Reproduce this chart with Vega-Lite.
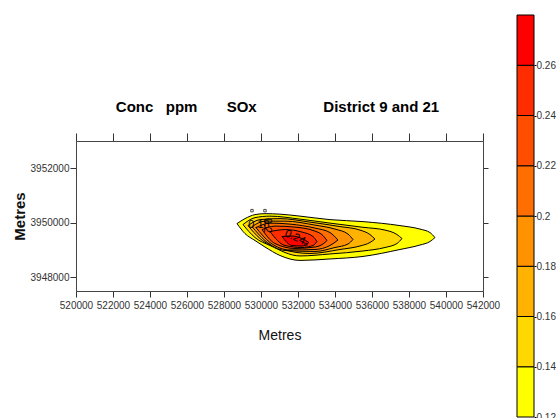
{
  "$schema": "https://vega.github.io/schema/vega-lite/v6.json",
  "padding": {"left": 12, "top": 14, "right": 0, "bottom": 0},
  "background": "white",
  "config": {"view": {"stroke": null}, "concat": {"spacing": 34}},
  "center": true,
  "bounds": "flush",
  "resolve": {"scale": {"color": "independent"}},
  "datasets": {
    "contours": [
      {"level":0.12,"x":528702,"ylo":3949971,"yhi":3949971},
      {"level":0.12,"x":529134,"ylo":3949606,"yhi":3950154},
      {"level":0.12,"x":529675,"ylo":3949351,"yhi":3950300},
      {"level":0.12,"x":530215,"ylo":3949113,"yhi":3950336},
      {"level":0.12,"x":531026,"ylo":3948803,"yhi":3950318},
      {"level":0.12,"x":532107,"ylo":3948621,"yhi":3950245},
      {"level":0.12,"x":533729,"ylo":3948675,"yhi":3950117},
      {"level":0.12,"x":535512,"ylo":3948767,"yhi":3950044},
      {"level":0.12,"x":537512,"ylo":3949022,"yhi":3949898},
      {"level":0.12,"x":538593,"ylo":3949186,"yhi":3949770},
      {"level":0.12,"x":539134,"ylo":3949314,"yhi":3949643},
      {"level":0.12,"x":539404,"ylo":3949460,"yhi":3949460},
      {"level":0.14,"x":529026,"ylo":3949935,"yhi":3949935},
      {"level":0.14,"x":529675,"ylo":3949460,"yhi":3950190},
      {"level":0.14,"x":530486,"ylo":3949168,"yhi":3950245},
      {"level":0.14,"x":532107,"ylo":3948785,"yhi":3950135},
      {"level":0.14,"x":533729,"ylo":3948858,"yhi":3949989},
      {"level":0.14,"x":535512,"ylo":3948967,"yhi":3949836},
      {"level":0.14,"x":536701,"ylo":3949095,"yhi":3949734},
      {"level":0.14,"x":537350,"ylo":3949241,"yhi":3949570},
      {"level":0.14,"x":537620,"ylo":3949424,"yhi":3949424},
      {"level":0.16,"x":529297,"ylo":3949898,"yhi":3949898},
      {"level":0.16,"x":529945,"ylo":3949424,"yhi":3950117},
      {"level":0.16,"x":531026,"ylo":3949059,"yhi":3950154},
      {"level":0.16,"x":532648,"ylo":3948876,"yhi":3950026},
      {"level":0.16,"x":534269,"ylo":3949022,"yhi":3949862},
      {"level":0.16,"x":535350,"ylo":3949150,"yhi":3949734},
      {"level":0.16,"x":535891,"ylo":3949278,"yhi":3949570},
      {"level":0.16,"x":536161,"ylo":3949405,"yhi":3949405},
      {"level":0.18,"x":529513,"ylo":3949862,"yhi":3949862},
      {"level":0.18,"x":530215,"ylo":3949351,"yhi":3950062},
      {"level":0.18,"x":531296,"ylo":3948986,"yhi":3950062},
      {"level":0.18,"x":532918,"ylo":3948949,"yhi":3949916},
      {"level":0.18,"x":533999,"ylo":3949095,"yhi":3949770},
      {"level":0.18,"x":534702,"ylo":3949223,"yhi":3949588},
      {"level":0.18,"x":534972,"ylo":3949387,"yhi":3949387},
      {"level":0.2,"x":529729,"ylo":3949825,"yhi":3949825},
      {"level":0.2,"x":530486,"ylo":3949278,"yhi":3949989},
      {"level":0.2,"x":531567,"ylo":3949004,"yhi":3949953},
      {"level":0.2,"x":532918,"ylo":3949022,"yhi":3949807},
      {"level":0.2,"x":533729,"ylo":3949168,"yhi":3949643},
      {"level":0.2,"x":534161,"ylo":3949369,"yhi":3949369},
      {"level":0.22,"x":530053,"ylo":3949752,"yhi":3949752},
      {"level":0.22,"x":530756,"ylo":3949241,"yhi":3949880},
      {"level":0.22,"x":531837,"ylo":3949059,"yhi":3949843},
      {"level":0.22,"x":532918,"ylo":3949113,"yhi":3949697},
      {"level":0.22,"x":533350,"ylo":3949223,"yhi":3949533},
      {"level":0.22,"x":533567,"ylo":3949351,"yhi":3949351},
      {"level":0.24,"x":530486,"ylo":3949679,"yhi":3949679},
      {"level":0.24,"x":531296,"ylo":3949168,"yhi":3949752},
      {"level":0.24,"x":532215,"ylo":3949095,"yhi":3949661},
      {"level":0.24,"x":532810,"ylo":3949168,"yhi":3949497},
      {"level":0.24,"x":533026,"ylo":3949314,"yhi":3949314},
      {"level":0.26,"x":531134,"ylo":3949497,"yhi":3949497},
      {"level":0.26,"x":531675,"ylo":3949168,"yhi":3949515},
      {"level":0.26,"x":532215,"ylo":3949150,"yhi":3949424},
      {"level":0.26,"x":532594,"ylo":3949278,"yhi":3949278}
    ],
    "labels": [
      {"x": 529891, "y": 3949935, "label": "0.18", "angle": 0},
      {"x": 530324, "y": 3949900, "label": "0.2", "angle": 90},
      {"x": 531837, "y": 3949460, "label": "0.24", "angle": 25}
    ],
    "dots": [
      {"x": 529513, "y": 3950446},
      {"x": 530215, "y": 3950446},
      {"x": 532432, "y": 3949205}
    ],
    "bar": [
      {"lo": 0.12, "hi": 0.14},
      {"lo": 0.14, "hi": 0.16},
      {"lo": 0.16, "hi": 0.18},
      {"lo": 0.18, "hi": 0.2},
      {"lo": 0.2, "hi": 0.22},
      {"lo": 0.22, "hi": 0.24},
      {"lo": 0.24, "hi": 0.26},
      {"lo": 0.26, "hi": 0.28}
    ]
  },
  "hconcat": [
    {
      "width": 407,
      "height": 150,
      "title": {
        "text": "Conc\u00a0\u00a0\u00a0ppm\u00a0\u00a0\u00a0\u00a0\u00a0\u00a0\u00a0SOx\u00a0\u00a0\u00a0\u00a0\u00a0\u00a0\u00a0\u00a0\u00a0\u00a0\u00a0\u00a0\u00a0\u00a0\u00a0\u00a0District 9 and 21",
        "font": "Liberation Sans",
        "fontSize": 15,
        "fontWeight": "bold",
        "color": "black",
        "anchor": "middle",
        "dx": -2,
        "offset": 18
      },
      "resolve": {"axis": {"x": "independent", "y": "independent"}},
      "layer": [
        {
          "data": {"name": "contours"},
          "mark": {"type": "area", "stroke": "black", "strokeWidth": 1, "interpolate": "monotone", "opacity": 1},
          "encoding": {
            "x": {
              "field": "x", "type": "quantitative",
              "scale": {"domain": [520000, 542000], "nice": false, "zero": false},
              "axis": {
                "orient": "bottom",
                "values": [520000, 522000, 524000, 526000, 528000, 530000, 532000, 534000, 536000, 538000, 540000, 542000],
                "format": "d", "grid": false,
                "labelFont": "Liberation Sans", "labelFontSize": 10, "labelColor": "#333",
                "labelPadding": 3, "labelOverlap": false, "labelFlush": false,
                "tickSize": 6, "tickColor": "#333", "domainColor": "#444",
                "title": "Metres", "titleFont": "Liberation Sans", "titleFontSize": 14,
                "titleFontWeight": "normal", "titleColor": "#111", "titlePadding": 18
              }
            },
            "y": {
              "field": "yhi", "type": "quantitative",
              "scale": {"domain": [3947500, 3953000], "nice": false, "zero": false},
              "axis": {
                "orient": "left",
                "values": [3948000, 3950000, 3952000],
                "format": "d", "grid": false,
                "labelFont": "Liberation Sans", "labelFontSize": 10, "labelColor": "#333",
                "labelPadding": 1,
                "tickSize": 6, "tickColor": "#333", "domainColor": "#444",
                "title": "Metres", "titleFont": "Liberation Sans", "titleFontSize": 15,
                "titleFontWeight": "bold", "titleColor": "#111", "titlePadding": 3
              }
            },
            "y2": {"field": "ylo"},
            "color": {
              "field": "level", "type": "ordinal",
              "scale": {
                "domain": [0.12, 0.14, 0.16, 0.18, 0.2, 0.22, 0.24, 0.26],
                "range": ["#FFFF00", "#FFD800", "#FFB200", "#FF9200", "#FF6E00", "#FF4E00", "#FF2C00", "#FF0000"]
              },
              "legend": null
            }
          }
        },
        {
          "data": {"name": "labels"},
          "mark": {"type": "text", "font": "Liberation Sans", "fontSize": 11, "color": "black"},
          "encoding": {
            "x": {
              "field": "x", "type": "quantitative",
              "axis": {
                "orient": "top", "labels": false, "title": null, "grid": false,
                "values": [520000, 522000, 524000, 526000, 528000, 530000, 532000, 534000, 536000, 538000, 540000, 542000],
                "tickSize": 8, "tickColor": "#333", "domainColor": "#444"
              }
            },
            "y": {
              "field": "y", "type": "quantitative",
              "axis": {
                "orient": "right", "labels": false, "title": null, "grid": false,
                "values": [3948000, 3950000, 3952000],
                "tickSize": 5, "tickColor": "#333", "domainColor": "#444"
              }
            },
            "text": {"field": "label"},
            "angle": {"field": "angle", "type": "quantitative", "scale": null}
          }
        },
        {
          "data": {"name": "dots"},
          "mark": {"type": "point", "shape": "square", "size": 6, "filled": false, "stroke": "black", "strokeWidth": 1},
          "encoding": {
            "x": {"field": "x", "type": "quantitative", "axis": null},
            "y": {"field": "y", "type": "quantitative", "axis": null}
          }
        }
      ]
    },
    {
      "width": 17,
      "height": 402,
      "data": {"name": "bar"},
      "mark": {"type": "rect", "stroke": "black", "strokeWidth": 1},
      "encoding": {
        "y": {
          "field": "lo", "type": "quantitative",
          "scale": {"domain": [0.12, 0.28], "nice": false, "zero": false},
          "axis": {
            "orient": "right", "values": [0.12, 0.14, 0.16, 0.18, 0.2, 0.22, 0.24, 0.26],
            "format": ".2~f", "domain": false, "grid": false, "title": null,
            "tickSize": 2, "tickColor": "black", "labelPadding": 0,
            "labelFont": "Liberation Sans", "labelFontSize": 10, "labelColor": "#333"
          }
        },
        "y2": {"field": "hi"},
        "color": {
          "field": "lo", "type": "ordinal",
          "scale": {
            "domain": [0.12, 0.14, 0.16, 0.18, 0.2, 0.22, 0.24, 0.26],
            "range": ["#FFFF00", "#FFD800", "#FFB200", "#FF9200", "#FF6E00", "#FF4E00", "#FF2C00", "#FF0000"]
          },
          "legend": null
        }
      }
    }
  ]
}
